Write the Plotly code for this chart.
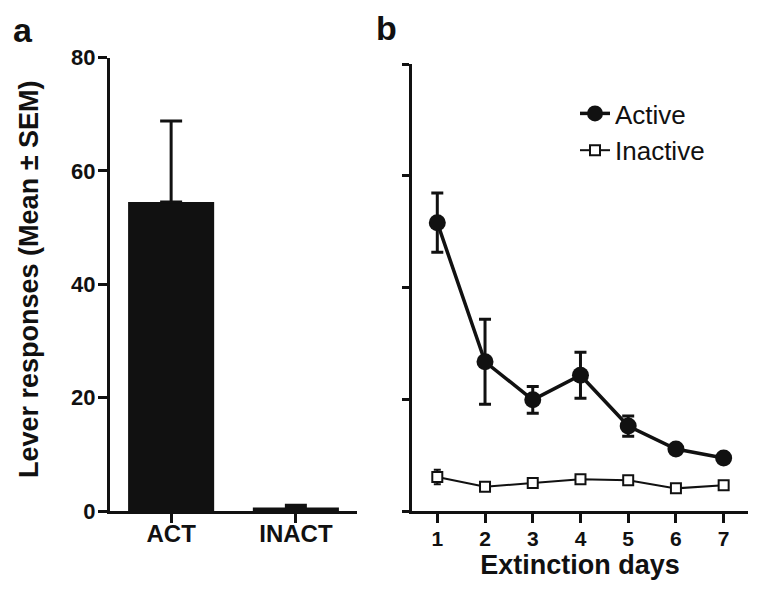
import plotly.graph_objects as go

# ---- data ----
bar_categories = ["ACT", "INACT"]
bar_means = [54.5, 0.6]
bar_sem = [14.3, 0.4]

days = [1, 2, 3, 4, 5, 6, 7]
active_mean = [51.6, 26.7, 19.9, 24.3, 15.2, 11.1, 9.5]
active_sem = [5.3, 7.6, 2.4, 4.1, 1.8, 0.8, 0.6]
inactive_mean = [6.1, 4.35, 5.0, 5.7, 5.5, 4.05, 4.6]
inactive_sem = [1.3, 0.5, 0.6, 0.5, 0.5, 0.4, 0.4]

y_ticks = [0, 20, 40, 60, 80]

INK = "#111111"
FONT = "Liberation Sans"
W, H = 762, 593


def fx(p):
    return p / W


def fy(p):
    return (H - p) / H


fig = go.Figure()

fig.add_trace(go.Bar(
    x=bar_categories, y=bar_means, width=0.69,
    marker=dict(color=INK, line=dict(width=0)),
    error_y=dict(type="data", symmetric=False, array=bar_sem, arrayminus=[0, 0],
                 color=INK, thickness=3, width=11),
    xaxis="x", yaxis="y", showlegend=False,
))

fig.add_trace(go.Scatter(
    x=days, y=inactive_mean, name="Inactive", mode="lines+markers",
    line=dict(color=INK, width=2),
    marker=dict(symbol="square", size=10, color="white", line=dict(color=INK, width=2)),
    error_y=dict(type="data", array=inactive_sem, color=INK, thickness=2, width=3.5),
    xaxis="x2", yaxis="y2",
))
fig.add_trace(go.Scatter(
    x=days, y=active_mean, name="Active", mode="lines+markers",
    line=dict(color=INK, width=3.5),
    marker=dict(symbol="circle", size=17, color=INK),
    error_y=dict(type="data", array=active_sem, color=INK, thickness=3, width=6),
    xaxis="x2", yaxis="y2",
))

axis_common = dict(showline=True, linewidth=3, linecolor=INK, ticks="outside",
                   tickwidth=3, tickcolor=INK, showgrid=False, zeroline=False)

fig.update_layout(
    width=W, height=H,
    margin=dict(l=0, r=0, t=0, b=0, autoexpand=False),
    paper_bgcolor="white", plot_bgcolor="white",
    font=dict(family=FONT, color=INK),
    xaxis=dict(domain=[fx(110), fx(357)], range=[-0.49, 1.49], ticklen=9,
               ticklabelstandoff=-10,
               tickfont=dict(size=24, weight="bold"), anchor="y", **axis_common),
    yaxis=dict(domain=[fy(511), fy(57.5)], range=[0, 80], tickvals=y_ticks,
               ticklen=9, ticklabelstandoff=-2,
               tickfont=dict(size=22, weight="bold"), anchor="x", **axis_common),
    xaxis2=dict(domain=[fx(412), fx(748)], range=[0.47, 7.51], tickvals=days, ticklen=9,
                ticklabelstandoff=-2,
                tickfont=dict(size=21, weight="bold"), anchor="y2",
                title=dict(text="Extinction days", font=dict(size=27, weight="bold"), standoff=2),
                **axis_common),
    yaxis2=dict(domain=[fy(511), fy(64)], range=[0, 80], tickvals=y_ticks,
                showticklabels=False, ticklen=7, anchor="x2", **axis_common),
    legend=dict(x=fx(575), y=fy(90), xanchor="left", yanchor="top",
                font=dict(size=26, color=INK), bgcolor="rgba(0,0,0,0)",
                traceorder="reversed", tracegroupgap=0, itemwidth=30),
    annotations=[
        dict(text="Lever responses (Mean ± SEM)", textangle=-90, xref="paper", yref="paper",
             x=fx(29), y=fy(280), xanchor="center", yanchor="middle", showarrow=False,
             font=dict(size=27, weight="bold", color=INK)),
        dict(text="a", xref="paper", yref="paper", x=fx(11), y=fy(30),
             xanchor="left", yanchor="middle", showarrow=False,
             font=dict(size=34, weight="bold", color=INK)),
        dict(text="b", xref="paper", yref="paper", x=fx(374), y=fy(28),
             xanchor="left", yanchor="middle", showarrow=False,
             font=dict(size=34, weight="bold", color=INK)),
    ],
)

fig.write_html("out.html", config={"displayModeBar": False},
               post_script="document.body.style.margin='0px';")
